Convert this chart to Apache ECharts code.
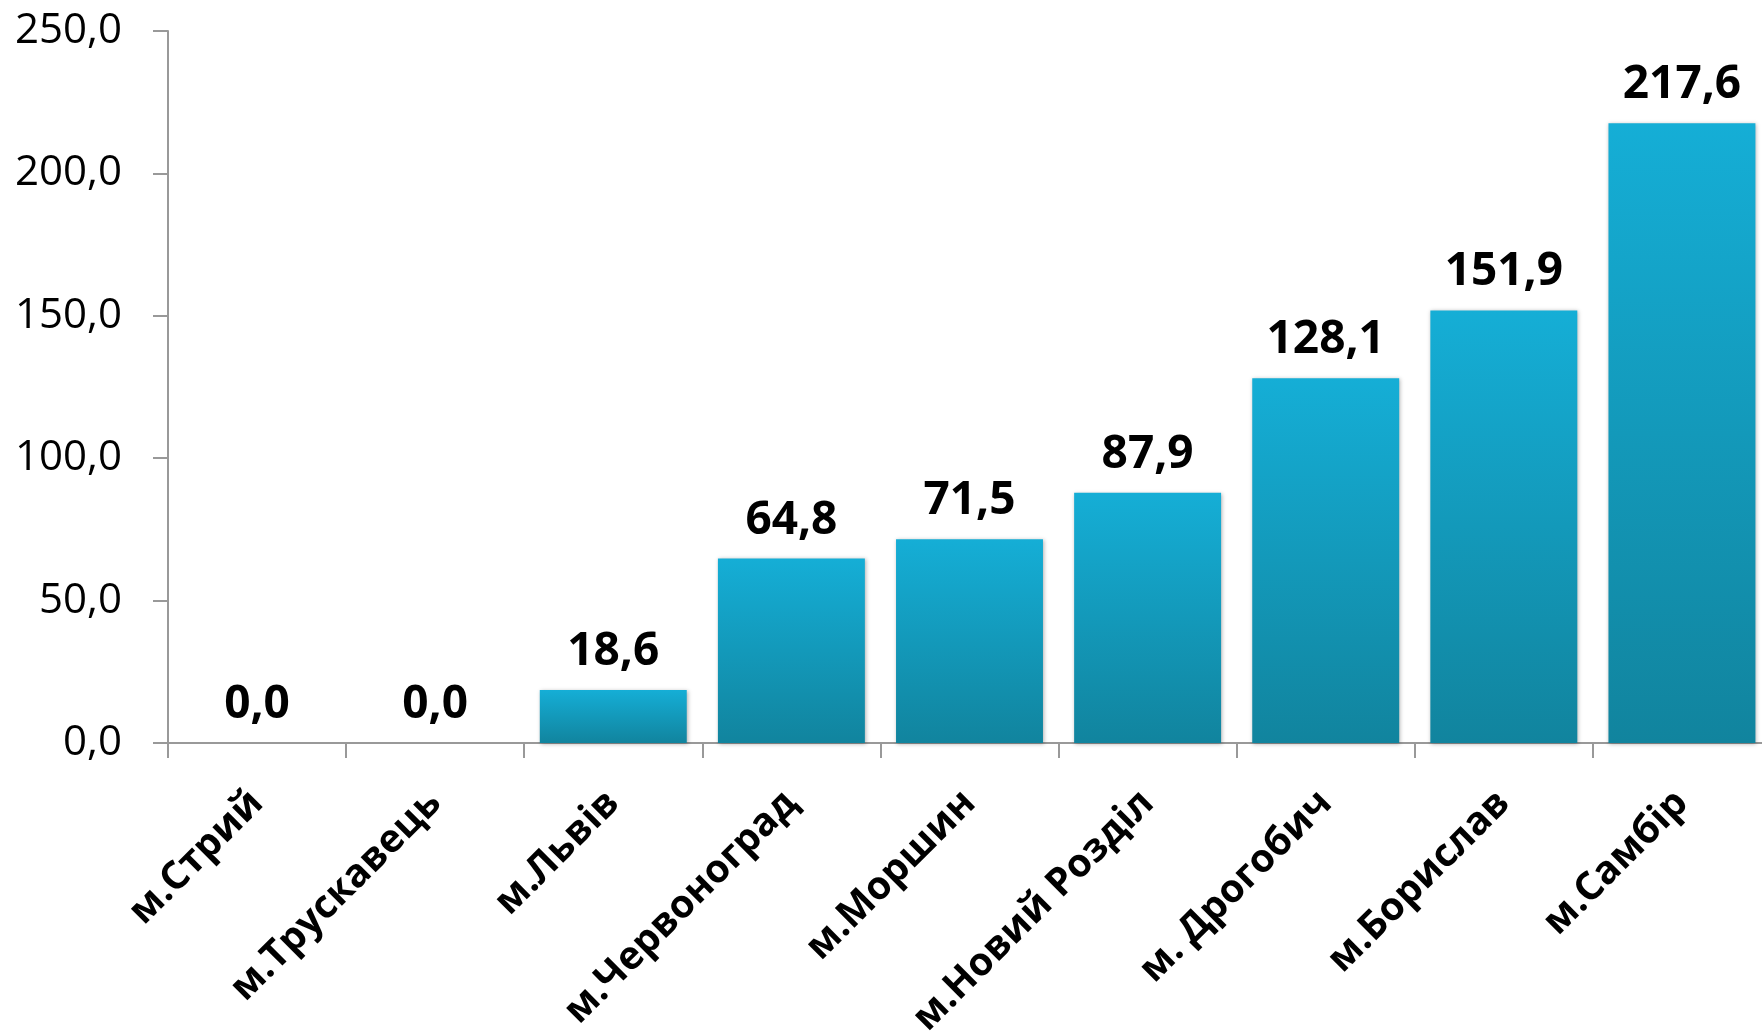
<!DOCTYPE html>
<html>
<head>
<meta charset="utf-8">
<script src="https://cdn.jsdelivr.net/npm/echarts@6/dist/echarts.min.js"></script>
<style>
  html, body { margin: 0; padding: 0; background: #fff; overflow: hidden; }
  /* the reference plot area runs a little past the right edge of the window */
  #chart { width: 1771px; height: 1033px; }
</style>
</head>
<body>
<div id="chart"></div>
<script>
var cities = ['м.Стрий', 'м.Трускавець', 'м.Львів', 'м.Червоноград', 'м.Моршин',
  'м.Новий Розділ', 'м. Дрогобич', 'м.Борислав', 'м.Самбір'];
var values = [0.0, 0.0, 18.6, 64.8, 71.5, 87.9, 128.1, 151.9, 217.6];
var yTicks = [0, 50, 100, 150, 200, 250];

function fmt(v) {
  return Number(v).toFixed(1).replace('.', ',');
}

var chart = echarts.init(document.getElementById('chart'));
var axisColor = '#999999';

var option = {
  backgroundColor: '#ffffff',
  animation: false,
  grid: {
    left: 168,
    right: 0,
    top: 31,
    bottom: 290,
    containLabel: false,
    outerBoundsMode: 'none'   // keep the plot fixed, do not shrink for labels
  },
  xAxis: {
    type: 'category',
    data: cities,
    axisLine: { show: true, lineStyle: { color: axisColor, width: 2 } },
    axisTick: { show: true, length: 15, lineStyle: { color: axisColor, width: 2 } },
    axisLabel: {
      rotate: 45,
      interval: 0,
      margin: 54,
      color: '#000',
      fontFamily: 'Open Sans',
      fontWeight: 'bold',
      fontSize: 39
    }
  },
  yAxis: {
    type: 'value',
    min: yTicks[0],
    max: yTicks[yTicks.length - 1],
    interval: 50,
    splitLine: { show: false },
    axisLine: { show: true, lineStyle: { color: axisColor, width: 2 } },
    axisTick: { show: true, length: 15, lineStyle: { color: axisColor, width: 2 } },
    axisLabel: {
      margin: 46,
      color: '#000',
      fontFamily: 'Open Sans',
      fontSize: 42,
      formatter: fmt
    }
  },
  series: [{
    type: 'bar',
    data: values,
    barCategoryGap: '17.5%',
    itemStyle: {
      color: new echarts.graphic.LinearGradient(0, 0, 0, 1, [
        { offset: 0, color: '#15aed6' },
        { offset: 1, color: '#11849e' }
      ]),
      shadowBlur: 4,
      shadowColor: 'rgba(0,0,0,0.3)',
      shadowOffsetX: 1,
      shadowOffsetY: 1
    },
    label: {
      show: true,
      position: 'top',
      distance: 15,
      color: '#000',
      fontFamily: 'Open Sans',
      fontWeight: 'bold',
      fontSize: 46,
      formatter: function (p) { return fmt(p.value); }
    }
  }]
};

chart.setOption(option);
</script>
</body>
</html>
